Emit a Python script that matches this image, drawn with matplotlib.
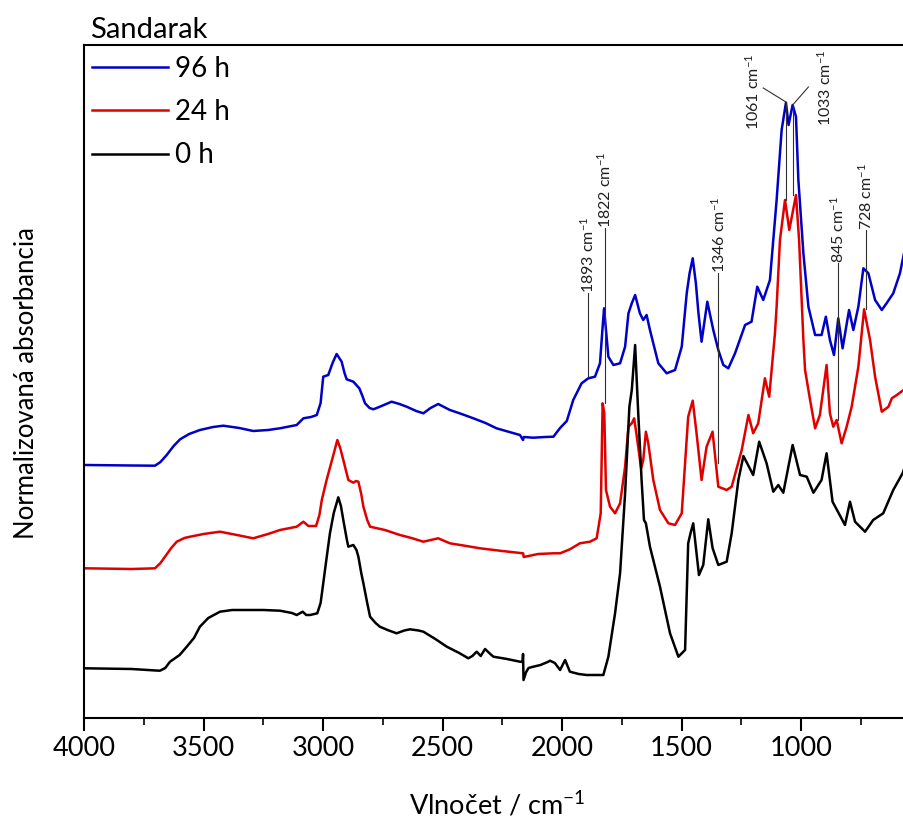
import matplotlib
matplotlib.use("Agg")
import matplotlib.pyplot as plt
from matplotlib.ticker import FixedLocator
from matplotlib.lines import Line2D

plt.rcParams['font.family'] = ['Lato', 'DejaVu Sans']
plt.rcParams['mathtext.fontset'] = 'custom'
plt.rcParams['mathtext.rm'] = 'Lato'
plt.rcParams['mathtext.it'] = 'Lato'

# ---------------- data (wavenumber / cm-1, normalised absorbance incl. offset) ----------------
wn_0h = [3996, 3800, 3700, 3682, 3660, 3640, 3600, 3570, 3540, 3515, 3480, 3431, 3380, 3347,
         3250, 3180, 3130, 3110, 3085, 3070, 3054, 3024, 3010, 2999, 2985, 2971, 2955, 2936,
         2925, 2915, 2900, 2894, 2873, 2860, 2852, 2840, 2831, 2815, 2803, 2780, 2762, 2730,
         2692, 2660, 2636, 2600, 2580, 2530, 2482, 2430, 2392, 2375, 2357, 2340, 2322, 2300,
         2287, 2230, 2176, 2165, 2163, 2161, 2150, 2140, 2120, 2090, 2060, 2050, 2030, 2008,
         1987, 1967, 1930, 1897, 1827, 1806, 1778, 1757, 1736, 1718, 1708, 1694, 1681, 1667,
         1657, 1649, 1632, 1590, 1548, 1513, 1485, 1472, 1462, 1451, 1427, 1409, 1388, 1370,
         1346, 1311, 1290, 1262, 1241, 1200, 1175, 1144, 1116, 1095, 1074, 1035, 1004, 976,
         948, 914, 893, 868, 816, 795, 774, 732, 698, 656, 614, 575, 560]
ab_0h = [0.497, 0.490, 0.475, 0.473, 0.500, 0.563, 0.630, 0.713, 0.800, 0.913, 1.000, 1.063,
         1.080, 1.080, 1.080, 1.073, 1.050, 1.030, 1.063, 1.030, 1.030, 1.047, 1.150, 1.347,
         1.600, 1.847, 2.050, 2.207, 2.120, 1.980, 1.780, 1.713, 1.730, 1.680, 1.613, 1.450,
         1.347, 1.150, 1.013, 0.950, 0.913, 0.880, 0.847, 0.875, 0.887, 0.875, 0.863, 0.790,
         0.713, 0.650, 0.597, 0.620, 0.663, 0.620, 0.690, 0.640, 0.613, 0.590, 0.563, 0.560,
         0.640, 0.380, 0.460, 0.500, 0.513, 0.530, 0.560, 0.573, 0.550, 0.480, 0.580, 0.463,
         0.440, 0.430, 0.430, 0.613, 1.047, 1.447, 2.247, 3.113, 3.280, 3.730, 3.047, 2.380,
         1.980, 1.947, 1.713, 1.313, 0.847, 0.613, 0.680, 1.747, 1.850, 1.947, 1.430, 1.530,
         1.987, 1.700, 1.530, 1.563, 1.847, 2.380, 2.620, 2.430, 2.763, 2.547, 2.263, 2.330,
         2.253, 2.730, 2.430, 2.413, 2.253, 2.380, 2.647, 2.163, 1.930, 2.163, 1.963, 1.863,
         1.980, 2.047, 2.280, 2.447, 2.550]

wn_24h = [3996, 3800, 3703, 3680, 3661, 3635, 3612, 3580, 3556, 3500, 3431, 3360, 3292, 3230,
          3180, 3110, 3082, 3061, 3029, 3015, 3005, 2985, 2960, 2940, 2928, 2915, 2894, 2873,
          2862, 2852, 2840, 2831, 2815, 2803, 2741, 2678, 2630, 2580, 2518, 2469, 2400, 2343,
          2250, 2163, 2160, 2100, 2036, 2008, 1967, 1925, 1883, 1855, 1838, 1830, 1823, 1816,
          1799, 1778, 1757, 1736, 1722, 1708, 1698, 1685, 1669, 1660, 1649, 1639, 1618, 1590,
          1555, 1527, 1499, 1472, 1453, 1437, 1416, 1395, 1370, 1346, 1311, 1290, 1248, 1220,
          1200, 1179, 1151, 1133, 1109, 1102, 1088, 1067, 1049, 1021, 1008, 990, 983, 962, 941,
          921, 893, 879, 865, 851, 830, 809, 788, 760, 736, 711, 690, 662, 634, 620, 599, 571,
          560]
ab_24h = [1.497, 1.490, 1.497, 1.550, 1.613, 1.700, 1.763, 1.800, 1.813, 1.840, 1.863, 1.830,
          1.797, 1.840, 1.880, 1.913, 1.963, 1.920, 1.920, 2.030, 2.180, 2.380, 2.600, 2.780,
          2.700, 2.580, 2.380, 2.353, 2.370, 2.363, 2.240, 2.113, 1.980, 1.913, 1.880, 1.830,
          1.800, 1.763, 1.797, 1.747, 1.720, 1.697, 1.670, 1.647, 1.610, 1.640, 1.647, 1.647,
          1.687, 1.747, 1.763, 1.797, 2.047, 3.147, 3.047, 2.280, 2.113, 2.047, 2.147, 2.513,
          2.913, 2.947, 2.997, 2.780, 2.497, 2.580, 2.863, 2.747, 2.380, 2.080, 1.947, 1.930,
          2.047, 3.013, 3.173, 2.847, 2.380, 2.713, 2.863, 2.313, 2.280, 2.313, 2.680, 3.030,
          2.847, 2.947, 3.397, 3.213, 3.847, 4.113, 4.780, 5.180, 4.880, 5.230, 4.780, 3.780,
          3.480, 3.180, 2.897, 3.030, 3.530, 3.047, 2.913, 2.980, 2.747, 2.913, 3.113, 3.513,
          4.087, 3.780, 3.413, 3.063, 3.113, 3.197, 3.230, 3.280, 3.300]

wn_96h = [3996, 3800, 3703, 3680, 3654, 3625, 3598, 3560, 3515, 3460, 3417, 3350, 3292, 3230,
          3180, 3110, 3082, 3050, 3026, 3010, 2999, 2978, 2960, 2943, 2922, 2910, 2901, 2873,
          2848, 2835, 2824, 2805, 2789, 2762, 2713, 2680, 2650, 2610, 2580, 2550, 2518, 2469,
          2420, 2371, 2320, 2274, 2220, 2176, 2163, 2160, 2120, 2070, 2036, 2008, 1980, 1953,
          1918, 1890, 1862, 1841, 1831, 1824, 1816, 1806, 1785, 1757, 1736, 1722, 1708, 1694,
          1674, 1660, 1646, 1632, 1597, 1562, 1527, 1499, 1478, 1466, 1453, 1440, 1429, 1416,
          1392, 1367, 1346, 1325, 1304, 1276, 1234, 1207, 1183, 1158, 1130, 1102, 1081, 1063,
          1052, 1035, 1021, 1011, 990, 969, 941, 914, 896, 879, 862, 844, 826, 799, 781, 760,
          739, 718, 690, 662, 642, 614, 586, 569, 560]
ab_96h = [2.530, 2.525, 2.523, 2.560, 2.630, 2.720, 2.787, 2.840, 2.880, 2.910, 2.923, 2.900,
          2.870, 2.880, 2.897, 2.930, 2.997, 3.010, 3.030, 3.150, 3.413, 3.430, 3.550, 3.640,
          3.563, 3.450, 3.387, 3.363, 3.297, 3.220, 3.147, 3.100, 3.087, 3.113, 3.163, 3.140,
          3.113, 3.070, 3.047, 3.100, 3.140, 3.080, 3.040, 2.997, 2.950, 2.897, 2.860, 2.830,
          2.780, 2.810, 2.803, 2.810, 2.813, 2.900, 2.970, 3.180, 3.347, 3.397, 3.413, 3.547,
          3.880, 4.097, 3.880, 3.613, 3.530, 3.547, 3.713, 4.047, 4.147, 4.230, 4.047, 3.980,
          4.030, 3.880, 3.547, 3.447, 3.480, 3.713, 4.250, 4.450, 4.597, 4.350, 4.047, 3.763,
          4.163, 3.880, 3.680, 3.530, 3.497, 3.647, 3.930, 3.963, 4.313, 4.180, 4.380, 5.180,
          5.880, 6.153, 5.930, 6.130, 6.013, 5.380, 4.647, 4.113, 3.830, 3.830, 4.013, 3.780,
          3.630, 3.997, 3.697, 4.080, 3.880, 4.113, 4.497, 4.447, 4.180, 4.080, 4.147, 4.247,
          4.447, 4.647, 4.800]

series_labels = ['96 h', '24 h', '0 h']
series_colors = ['#0000c8', '#e00000', '#000000']

# band annotations: wavenumber, line bottom, line top, label
band_wn = [1893, 1822, 1346, 845, 728]
band_lo = [3.41, 3.15, 2.55, 2.98, 4.09]
band_hi = [4.25, 4.90, 4.45, 4.55, 4.88]
band_txt = ['1893', '1822', '1346', '845', '728']

# bands with slanted leader lines
lead_wn = [1063, 1035]
lead_lo = [5.18, 5.23]
lead_peak = [6.16, 6.13]
lead_end_wn = [1158, 969]
lead_end_y = [6.30, 6.31]
lead_lab_wn = [1201, 900]
lead_lab_y = [6.26, 6.30]
lead_txt = ['1061', '1033']

# ---------------- figure ----------------
W, H = 904, 823
fig = plt.figure(figsize=(W / 100, H / 100), dpi=100)
x_left, x_right = 4000, 500
px_per = 0.239
ax_l, ax_b, ax_t = 84, 718, 45
ax_w = (x_left - x_right) * px_per
ax = fig.add_axes([ax_l / W, (H - ax_b) / H, ax_w / W, (ax_b - ax_t) / H])

lw = 1.8
ax.plot(wn_24h, ab_24h, color=series_colors[1], lw=lw)
ax.plot(wn_0h, ab_0h, color=series_colors[2], lw=lw)
ax.plot(wn_96h, ab_96h, color=series_colors[0], lw=lw)

ax.set_xlim(x_left, x_right)
ax.set_ylim(0, 6.73)

ann_col = '#303030'
sup = r' cm$^{\mathregular{-1}}$'
for w, lo, hi, t in zip(band_wn, band_lo, band_hi, band_txt):
    ax.plot([w, w], [lo, hi], color=ann_col, lw=0.8)
    ax.text(w, hi, t + sup, rotation=90, ha='center', va='bottom', fontsize=11.5,
            color='#202020')
for w, lo, pk, ew, ey, lx, ly, t in zip(lead_wn, lead_lo, lead_peak, lead_end_wn,
                                        lead_end_y, lead_lab_wn, lead_lab_y, lead_txt):
    ax.plot([w, w], [lo, pk], color=ann_col, lw=0.8)
    ax.plot([w, ew], [pk, ey], color=ann_col, lw=0.8)
    ax.text(lx, ly, t + sup, rotation=90, ha='center', va='center', fontsize=11.5,
            color='#202020')

# axes style
for s in ['left', 'top', 'bottom', 'right']:
    ax.spines[s].set_linewidth(1.5)
ax.set_yticks([])
ax.xaxis.set_major_locator(FixedLocator([4000, 3500, 3000, 2500, 2000, 1500, 1000]))
ax.xaxis.set_minor_locator(FixedLocator([3750, 3250, 2750, 2250, 1750, 1250, 750]))
ax.tick_params(axis='x', which='major', direction='out', length=9, width=1.5,
               labelsize=19.5, pad=4)
ax.tick_params(axis='x', which='minor', direction='out', length=5, width=1.2)

# legend
handles = [Line2D([], [], color=c, lw=lw) for c in series_colors]
ax.legend(handles, series_labels, loc='upper left', bbox_to_anchor=(0.003, 0.992),
          frameon=False, fontsize=20, handlelength=2.75, handletextpad=0.25,
          labelspacing=0.62, borderpad=0.2, borderaxespad=0)

fig.text(90 / W, 1 - 30 / H, 'Sandarak', fontsize=21, ha='left', va='center')
fig.text(497 / W, 1 - 805 / H, r'Vlnočet / cm$^{\mathregular{-1}}$', fontsize=19.5,
         ha='center', va='center')
fig.text(27 / W, 1 - 383 / H, 'Normalizovaná absorbancia', fontsize=18.5, rotation=90,
         ha='center', va='center')

fig.savefig('out.png', dpi=100)
